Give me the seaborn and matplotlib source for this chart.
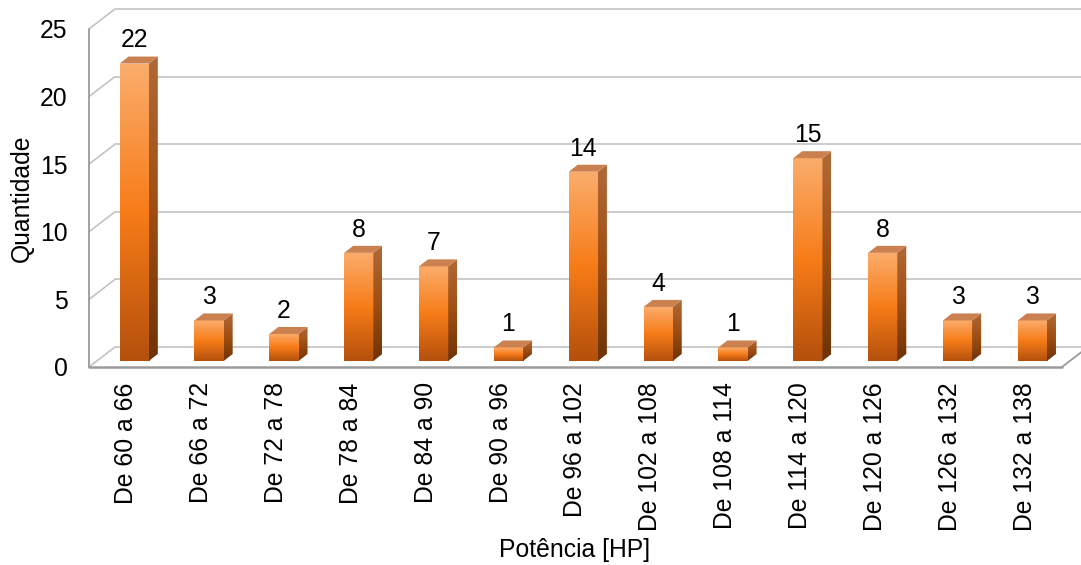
import numpy as np
import pandas as pd
import matplotlib
matplotlib.use("Agg")
import matplotlib.pyplot as plt
from matplotlib.colors import LinearSegmentedColormap
from matplotlib.patches import Polygon
import seaborn as sns

# ---- data -------------------------------------------------------------
categories = ["De 60 a 66", "De 66 a 72", "De 72 a 78", "De 78 a 84",
              "De 84 a 90", "De 90 a 96", "De 96 a 102", "De 102 a 108",
              "De 108 a 114", "De 114 a 120", "De 120 a 126", "De 126 a 132",
              "De 132 a 138"]
values = [22, 3, 2, 8, 7, 1, 14, 4, 1, 15, 8, 3, 3]
y_ticks = [0, 5, 10, 15, 20, 25]
x_title = "Potência [HP]"
y_title = "Quantidade"

# ---- style ------------------------------------------------------------
sns.set_style("white")
plt.rcParams["font.family"] = ["Liberation Sans", "DejaVu Sans"]
plt.rcParams["text.color"] = "black"
plt.rcParams["xtick.color"] = "black"
plt.rcParams["ytick.color"] = "black"
FS = 17.8

W, H, DPI = 1081, 565, 100
fig = plt.figure(figsize=(W / DPI, H / DPI), dpi=DPI)
# axes = front plane of the 3-D box
left, right, top, bottom = 89, 1062, 29, 367
ax = fig.add_axes([left / W, 1 - bottom / H, (right - left) / W, (bottom - top) / H])

df = pd.DataFrame({"cat": categories, "val": values})
sns.barplot(data=df, x="cat", y="val", ax=ax, width=0.39, color="#F57F17",
            saturation=1, zorder=3)

ax.set_xlim(-0.5, len(categories) - 0.5)
ax.set_ylim(0, 25)
xlim, ylim = ax.get_xlim(), ax.get_ylim()

# pixel -> data deltas
px_x = ax.bbox.width / (xlim[1] - xlim[0])
px_y = ax.bbox.height / (ylim[1] - ylim[0])


def d(dx_px, dy_px):
    return dx_px / px_x, dy_px / px_y


wall_dx, wall_dy = d(26, 20)      # depth of the whole box
bar_off_x, bar_off_y = d(7.8, 6)  # bars sit a little behind the front plane
bar_dx, bar_dy = d(9, 7)          # depth of each bar

# ---- walls and gridlines ---------------------------------------------
grid_c = "#C3C3C3"
x_l, x_r = xlim
for v in y_ticks:
    ax.plot([x_l, x_l + wall_dx], [v, v + wall_dy], color=grid_c, lw=1.2,
            zorder=1, clip_on=False, solid_capstyle="butt")
    ax.plot([x_l + wall_dx, x_r + wall_dx], [v + wall_dy, v + wall_dy],
            color=grid_c, lw=1.2, zorder=1, clip_on=False)
edge_c = "#9A9A9A"
ax.plot([x_l, x_l], [0, 25], color=edge_c, lw=1.3, zorder=2, clip_on=False)
ax.plot([x_l, x_r], [0, 0], color=edge_c, lw=1.8, zorder=2, clip_on=False)
ax.plot([x_r, x_r + wall_dx], [0, wall_dy], color=edge_c, lw=1.3, zorder=2,
        clip_on=False)

# ---- shaded 3-D bars --------------------------------------------------
front_cmap = LinearSegmentedColormap.from_list(
    "front", [(0.0, "#FBAD6C"), (0.5, "#F77C18"), (1.0, "#B4500C")])
side_cmap = LinearSegmentedColormap.from_list(
    "side", [(0.0, "#B06A38"), (0.5, "#A04E12"), (1.0, "#6E3306")])
grad = np.linspace(0, 1, 256).reshape(-1, 1)

for p, v in zip(ax.patches, values):
    x0 = p.get_x() + bar_off_x
    y0 = p.get_y() + bar_off_y
    w, h = p.get_width(), p.get_height()
    p.set_x(x0)
    p.set_y(y0)
    p.set_facecolor("none")
    p.set_linewidth(0)

    im = ax.imshow(grad, cmap=front_cmap, extent=[x0, x0 + w, y0, y0 + h],
                   origin="upper", aspect="auto", zorder=3, interpolation="bilinear")
    im.set_clip_path(p)

    side = Polygon([(x0 + w, y0), (x0 + w + bar_dx, y0 + bar_dy),
                    (x0 + w + bar_dx, y0 + h + bar_dy), (x0 + w, y0 + h)],
                   closed=True, facecolor="none", edgecolor="none", zorder=3)
    ax.add_patch(side)
    ims = ax.imshow(grad, cmap=side_cmap,
                    extent=[x0 + w, x0 + w + bar_dx, y0, y0 + h + bar_dy],
                    origin="upper", aspect="auto", zorder=3, interpolation="bilinear")
    ims.set_clip_path(side)

    top_face = Polygon([(x0, y0 + h), (x0 + w, y0 + h),
                        (x0 + w + bar_dx, y0 + h + bar_dy), (x0 + bar_dx, y0 + h + bar_dy)],
                       closed=True, facecolor="#CB8050", edgecolor="none", zorder=3)
    ax.add_patch(top_face)

    ax.annotate(f"{v}", xy=(x0 + w / 2, y0 + h), xytext=(0, 8),
                textcoords="offset points", ha="center", va="bottom",
                fontsize=FS, color="black", zorder=5)

ax.set_xlim(xlim)
ax.set_ylim(ylim)

# ---- axes cosmetics ---------------------------------------------------
for s in ax.spines.values():
    s.set_visible(False)
ax.set_facecolor("none")
ax.set_yticks(y_ticks)
ax.tick_params(axis="y", length=0, pad=15.5, labelsize=FS, labelcolor="black")
ax.tick_params(axis="x", length=0, pad=11, labelsize=FS, labelcolor="black")
ax.set_xticks(range(len(categories)))
ax.set_xticklabels(categories, rotation=90, ha="center", va="top")
ax.set_xlabel("")
ax.set_ylabel("")

fig.text(22 / W, 1 - 198 / H, y_title, rotation=90, ha="center", va="center",
         fontsize=FS, color="black")
fig.text(575 / W, 1 - 550 / H, x_title, ha="center", va="center", fontsize=FS,
         color="black")

fig.savefig("out.png", dpi=DPI, facecolor="white")
